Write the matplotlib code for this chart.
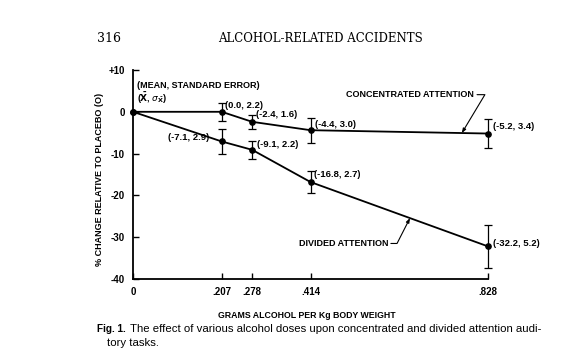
import numpy as np
import matplotlib
matplotlib.use("Agg")
import matplotlib.pyplot as plt

# --------------------------
# data
# --------------------------
dose = [0.0, 0.207, 0.278, 0.414, 0.828]
dose_labels = ["0", ".207", ".278", ".414", ".828"]

conc_mean = [0.0, 0.0, -2.4, -4.4, -5.2]
conc_se = [0.0, 2.2, 1.6, 3.0, 3.4]

div_mean = [0.0, -7.1, -9.1, -16.8, -32.2]
div_se = [0.0, 2.9, 2.2, 2.7, 5.2]

y_ticks = [10, 0, -10, -20, -30, -40]
y_tick_labels = ["+10", "0", "-10", "-20", "-30", "-40"]

# --------------------------
# figure
# --------------------------
plt.rcParams['font.family'] = ['Liberation Sans', 'DejaVu Sans']
fig = plt.figure(figsize=(5.75, 3.56), dpi=100)
ax = fig.add_axes([133 / 575, 1 - 279 / 356, 355 / 575, 209 / 356])

lw = 1.3
fs = 6.5

for mean, se in [(conc_mean, conc_se), (div_mean, div_se)]:
    ax.plot(dose, mean, color='black', lw=lw, marker='o', ms=3.8, zorder=3,
            clip_on=False)
    # error bars only where a dose was given
    eb = ax.errorbar(dose[1:], mean[1:], yerr=se[1:], fmt='none', ecolor='black',
                     elinewidth=0.9, capsize=3, capthick=0.9, zorder=2)
    for art in eb.get_children():
        art.set_clip_on(False)

# value labels (mean, standard error)
label_pos = {
    ('c', 1): (0.215, 1.4, 'left'),
    ('c', 2): (0.286, -0.6, 'left'),
    ('c', 3): (0.425, -3.0, 'left'),
    ('c', 4): (0.840, -3.4, 'left'),
    ('d', 1): (0.177, -6.2, 'right'),
    ('d', 2): (0.289, -7.8, 'left'),
    ('d', 3): (0.423, -15.1, 'left'),
    ('d', 4): (0.840, -31.5, 'left'),
}
for (key, i), (lx, ly, ha) in label_pos.items():
    m, s = (conc_mean[i], conc_se[i]) if key == 'c' else (div_mean[i], div_se[i])
    ax.text(lx, ly, f"({m:.1f}, {s:.1f})", ha=ha, va='center',
            fontsize=6.8, fontweight='bold')

ax.text(0.009, 6.4, "(MEAN, STANDARD ERROR)", ha='left', va='center',
        fontsize=fs, fontweight='bold')
ax.text(0.009, 3.3, r"($\mathbf{\bar{X}}$, $\sigma_{\mathbf{\bar{X}}}$)",
        ha='left', va='center', fontsize=fs, fontweight='bold')

# series name callouts
arrow = dict(arrowstyle='-|>,head_length=0.4,head_width=0.15', color='black',
             lw=0.8, relpos=(1, 0.5), shrinkA=0, shrinkB=0)
ax.annotate("CONCENTRATED ATTENTION", xy=(0.767, -5.08), xytext=(0.796, 4.1),
            ha='right', va='center', fontsize=fs, fontweight='bold',
            arrowprops=dict(arrow, connectionstyle="angle,angleA=0,angleB=59,rad=0"))
ax.annotate("DIVIDED ATTENTION", xy=(0.646, -25.43), xytext=(0.595, -31.5),
            ha='right', va='center', fontsize=fs, fontweight='bold',
            arrowprops=dict(arrow, connectionstyle="angle,angleA=0,angleB=63,rad=0"))

ax.set_xlim(0, 0.828)
ax.set_ylim(-40, 10)
ax.set_xticks(dose)
ax.set_xticklabels(dose_labels)
ax.set_yticks(y_ticks)
ax.set_yticklabels(y_tick_labels)
ax.tick_params(direction='in', length=4, width=1, labelsize=7, pad=6)
for lab in ax.get_xticklabels() + ax.get_yticklabels():
    lab.set_fontweight('bold')
ax.spines['top'].set_visible(False)
ax.spines['right'].set_visible(False)
ax.spines['left'].set_linewidth(1.3)
ax.spines['bottom'].set_linewidth(1.3)
ax.patch.set_visible(False)

fig.text(100 / 575, 1 - 179 / 356, "% CHANGE RELATIVE TO PLACEBO (O)",
         rotation=90, ha='center', va='center', fontsize=fs, fontweight='bold')
fig.text(307 / 575, 1 - 315 / 356, "GRAMS ALCOHOL PER Kg BODY WEIGHT",
         ha='center', va='center', fontsize=6.3, fontweight='bold')

# page header and caption
fig.text(97 / 575, 1 - 38 / 356, "316", ha='left', va='center',
         fontsize=9, family='DejaVu Serif')
fig.text(320 / 575, 1 - 38 / 356, "ALCOHOL-RELATED ACCIDENTS", ha='center',
         va='center', fontsize=8.5, family='DejaVu Serif')
fig.text(97 / 575, 1 - 329 / 356, "Fig. 1.", ha='left', va='center',
         fontsize=7.2, fontweight='bold')
fig.text(130 / 575, 1 - 329 / 356,
         "The effect of various alcohol doses upon concentrated and divided attention audi-",
         ha='left', va='center', fontsize=8.2)
fig.text(107 / 575, 1 - 343 / 356, "tory tasks.", ha='left', va='center', fontsize=8.2)

fig.savefig("out.png", dpi=100, facecolor='white')
